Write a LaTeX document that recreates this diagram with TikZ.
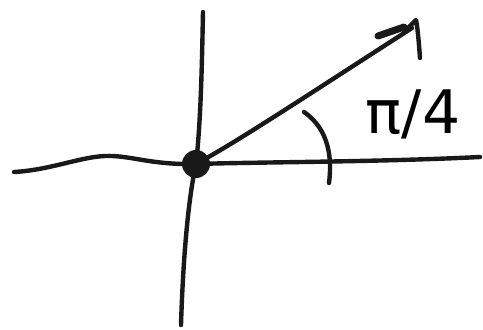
\documentclass[tikz,border=0pt]{standalone}
\usepackage{fontspec}
\newfontfamily\hand{DejaVu Sans}
\begin{document}
\begin{tikzpicture}[x=1pt,y=-1pt,
  ink/.style={line width=4.4pt,line cap=round,line join=round,black!90},
  thick ink/.style={line width=7pt,line cap=round,line join=round,black!90}]
\useasboundingbox (0,0) rectangle (483,330);
\coordinate (O) at (196,164);
\coordinate (tip) at (412,28);
% horizontal axis
\draw[ink] (14,172) .. controls (50,170) and (80,157) .. (105,156)
  .. controls (130,155) and (150,165) .. (O)
  .. controls (260,162) and (380,162) .. (480,157);
% vertical axis
\draw[ink] (203,12) .. controls (202,60) and (201,120) .. (O)
  .. controls (188,200) and (183,260) .. (181,325);
% vector
\draw[ink] (O) .. controls (240,140) and (300,100) .. (tip);
% arrow head
\draw[thick ink] (378,36) -- (404,27);
\draw[ink] (404,32) -- (416,20) .. controls (418,30) and (419,45) .. (420,58);
% origin dot
\fill[black!90] (O) circle (14);
% angle arc
\draw[ink] (304,112) .. controls (330,130) and (332,160) .. (329,183);
% label
\node[inner sep=0pt] (lab) at (413,114) {\hand\fontsize{60}{60}\selectfont π/4};
\end{tikzpicture}
\end{document}
